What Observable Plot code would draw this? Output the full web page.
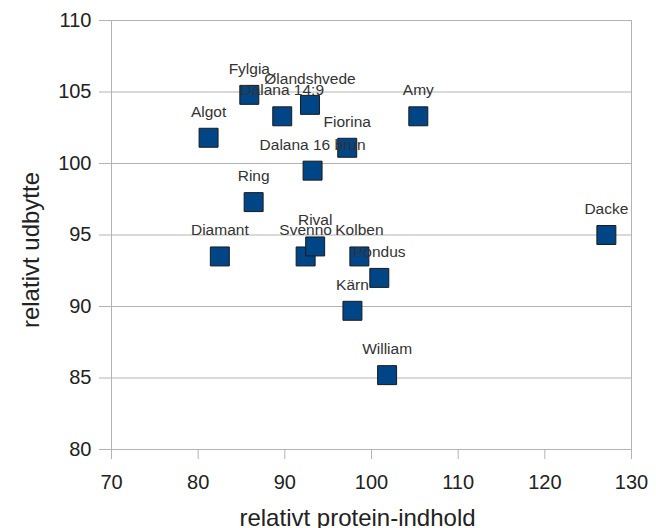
<!DOCTYPE html>
<html>
<head>
<meta charset="utf-8">
<script src="https://cdn.jsdelivr.net/npm/d3@7"></script>
<script src="https://cdn.jsdelivr.net/npm/@observablehq/plot@0.6"></script>
<style>
  html, body { margin: 0; padding: 0; background: #fff; }
  #chart { width: 656px; height: 528px; }
  svg { font-family: "Liberation Sans", Arial, sans-serif; }
</style>
</head>
<body>
<div id="chart"></div>
<script>
const names = ["Fylgia", "Dalana 14:9", "Ølandshvede", "Algot", "Fiorina", "Dalana 16 brun", "Ring", "Amy", "Dacke", "Diamant", "Svenno", "Rival", "Kolben", "Pondus", "Kärn", "William"];
const protein = [85.9, 89.7, 92.9, 81.2, 97.2, 93.2, 86.4, 105.4, 127.1, 82.5, 92.4, 93.5, 98.6, 100.9, 97.8, 101.8];
const yieldRel = [104.8, 103.3, 104.1, 101.8, 101.1, 99.5, 97.3, 103.3, 95.0, 93.5, 93.5, 94.2, 93.5, 92.0, 89.7, 85.2];
const xTicks = [70, 80, 90, 100, 110, 120, 130];
const yTicks = [80, 85, 90, 95, 100, 105, 110];

const data = names.map((n, i) => ({name: n, x: protein[i], y: yieldRel[i]}));

const chart = Plot.plot({
  width: 656,
  height: 528,
  marginLeft: 111,
  marginRight: 25,
  marginTop: 20,
  marginBottom: 79,
  style: {fontFamily: "Liberation Sans, Arial, sans-serif", background: "#fff"},
  x: {domain: [70, 130], ticks: xTicks},
  y: {domain: [80, 110], ticks: yTicks},
  marks: [
    Plot.gridY(yTicks, {stroke: "#b3b3b3", strokeOpacity: 1, strokeWidth: 1}),
    Plot.ruleX([130], {stroke: "#b3b3b3", strokeWidth: 1}),
    Plot.axisX({ticks: xTicks, tickSize: 10, tickPadding: 15, fontSize: 20, fill: "#222", stroke: "#b3b3b3", label: null}),
    Plot.axisY({ticks: yTicks, tickSize: 12, tickPadding: 8, fontSize: 20, fill: "#222", stroke: "#b3b3b3", label: null}),
    Plot.ruleX([70], {stroke: "#b3b3b3", strokeWidth: 1, y1: 80, y2: 110}),
    Plot.ruleY([80], {stroke: "#b3b3b3", strokeWidth: 1}),
    Plot.dot(data, {x: "x", y: "y", symbol: "square", r: 10.7, fill: "#004586", stroke: "#1a1a1a", strokeWidth: 1}),
    Plot.text(data, {x: "x", y: "y", text: "name", dy: -26, fontSize: 15.5, fill: "#333"}),
    Plot.text(["relativt protein-indhold"], {frameAnchor: "bottom", textAnchor: "middle", lineAnchor: "middle", dx: -14, dy: 69, fontSize: 24, fill: "#222"}),
    Plot.text(["relativt udbytte"], {frameAnchor: "left", textAnchor: "middle", lineAnchor: "middle", dx: -80, dy: 15, rotate: -90, fontSize: 24, fill: "#222"})
  ]
});
document.getElementById("chart").appendChild(chart);
</script>
</body>
</html>
